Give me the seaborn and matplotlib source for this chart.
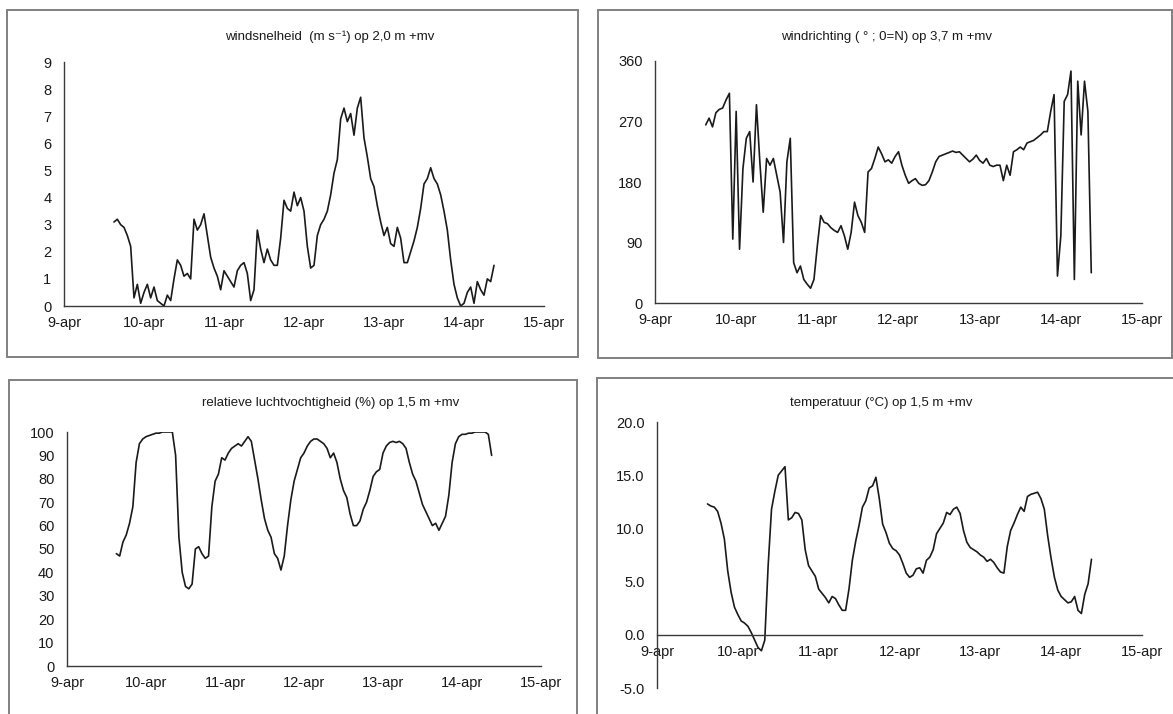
import matplotlib
matplotlib.use("Agg")
import matplotlib.pyplot as plt
import matplotlib.dates as mdates
from matplotlib.patches import Rectangle
from matplotlib.ticker import FuncFormatter
import seaborn as sns
import pandas as pd

# hourly readings, 9-apr 15:00 .. 14-apr 09:00
start = "2010-04-09 15:00"

wind_speed = [
    3.1, 3.2, 3.0, 2.9, 2.6, 2.2, 0.3, 0.8, 0.1, 0.5,
    0.8, 0.3, 0.7, 0.2, 0.1, 0.0, 0.4, 0.2, 1.0, 1.7,
    1.5, 1.1, 1.2, 1.0, 3.2, 2.8, 3.0, 3.4, 2.6, 1.8,
    1.4, 1.1, 0.6, 1.3, 1.1, 0.9, 0.7, 1.3, 1.5, 1.6,
    1.2, 0.2, 0.6, 2.8, 2.1, 1.6, 2.1, 1.7, 1.5, 1.5,
    2.5, 3.9, 3.6, 3.5, 4.2, 3.7, 4.0, 3.5, 2.2, 1.4,
    1.5, 2.6, 3.0, 3.2, 3.5, 4.1, 4.9, 5.4, 6.9, 7.3,
    6.8, 7.1, 6.3, 7.3, 7.7, 6.2, 5.5, 4.7, 4.4, 3.7,
    3.1, 2.6, 2.9, 2.3, 2.2, 2.9, 2.5, 1.6, 1.6, 2.0,
    2.4, 2.9, 3.6, 4.5, 4.7, 5.1, 4.7, 4.5, 4.1, 3.5,
    2.8, 1.7, 0.8, 0.3, 0.0, 0.1, 0.5, 0.7, 0.1, 0.9,
    0.6, 0.4, 1.0, 0.9, 1.5,
]

wind_dir = [
    265, 275, 262, 283, 288, 290, 302, 312, 95, 285,
    80, 200, 245, 255, 180, 295, 210, 135, 215, 205,
    215, 190, 165, 90, 210, 245, 60, 45, 55, 35,
    28, 22, 35, 85, 130, 120, 118, 112, 108, 105,
    115, 100, 80, 105, 150, 130, 120, 105, 195, 200,
    215, 232, 222, 210, 213, 208, 218, 225, 205, 190,
    178, 182, 185, 178, 175, 176, 182, 195, 210, 218,
    220, 222, 224, 226, 224, 225, 220, 215, 210, 214,
    220, 212, 208, 215, 205, 203, 205, 205, 182, 205,
    190, 225, 228, 232, 228, 238, 240, 242, 246, 250,
    255, 255, 285, 310, 40, 100, 300, 310, 345, 35,
    330, 250, 330, 285, 45,
]

humidity = [
    48, 47, 53, 56, 61, 68, 87, 95, 97, 98,
    98.5, 99, 99.5, 99.5, 100, 100, 100, 100, 90, 55,
    40, 34, 33, 35, 50, 51, 48, 46, 47, 68,
    79, 82, 89, 88, 91, 93, 94, 95, 94, 96,
    98, 96, 88, 80, 71, 63, 58, 55, 48, 46,
    41, 47, 60, 71, 79, 84, 89, 91, 94, 96,
    97, 97, 96, 95, 93, 89, 91, 87, 80, 75,
    72, 65, 60, 60, 62, 67, 70, 75, 81, 83,
    84, 91, 94, 95.5, 96, 95.5, 96, 95, 93, 87,
    82, 79, 74, 69, 66, 63, 60, 61, 58, 61,
    64, 73, 87, 95, 98, 99, 99, 99.5, 99.5, 100,
    100, 100, 100, 99, 90,
]

temperature = [
    12.3, 12.1, 12.0, 11.6, 10.5, 9.0, 6.0, 4.0, 2.6, 1.9,
    1.3, 1.1, 0.8, 0.2, -0.5, -1.2, -1.5, -0.5, 6.5, 11.8,
    13.5, 15.0, 15.4, 15.8, 10.8, 11.0, 11.5, 11.4, 10.8, 8.0,
    6.5, 6.0, 5.5, 4.3, 3.9, 3.5, 3.0, 3.6, 3.4, 2.8,
    2.3, 2.3, 4.3, 7.0, 8.8, 10.3, 12.0, 12.6, 13.8, 14.0,
    14.8, 12.8, 10.4, 9.6, 8.6, 8.1, 7.9, 7.5, 6.7, 5.8,
    5.4, 5.6, 6.2, 6.3, 5.8, 7.0, 7.3, 8.0, 9.5, 10.0,
    10.5, 11.5, 11.3, 11.8, 12.0, 11.4, 9.8, 8.7, 8.2, 8.0,
    7.8, 7.5, 7.3, 6.9, 7.1, 6.8, 6.3, 5.9, 5.8, 8.3,
    9.8, 10.5, 11.3, 12.0, 11.6, 13.0, 13.2, 13.3, 13.4, 12.8,
    11.8, 9.3, 7.2, 5.4, 4.2, 3.6, 3.3, 3.0, 3.1, 3.6,
    2.3, 2.0, 3.8, 4.8, 7.1,
]

titles = [
    "windsnelheid  (m s\u207b\u00b9) op 2,0 m +mv",
    "windrichting ( \u00b0 ; 0=N) op 3,7 m +mv",
    "relatieve luchtvochtigheid (%) op 1,5 m +mv",
    "temperatuur (\u00b0C) op 1,5 m +mv",
]
y_ticks = [
    list(range(0, 10)),
    [0, 90, 180, 270, 360],
    list(range(0, 101, 10)),
    [-5, 0, 5, 10, 15, 20],
]

df = pd.DataFrame({
    "time": pd.date_range(start, periods=len(wind_speed), freq="h"),
    "wind_speed": wind_speed,
    "wind_dir": wind_dir,
    "humidity": humidity,
    "temperature": temperature,
})

sns.set_style("white")
plt.rcParams["font.family"] = ["Liberation Sans", "DejaVu Sans"]

W, H = 1173, 714
fig = plt.figure(figsize=(W / 100, H / 100), dpi=100)

# (column, axes px: left, right, top, bottom), (box px), (title px), tick format
panels = [
    ("wind_speed", (64, 544, 62, 306), (7, 578, 10, 357), (330, 37), "{:.0f}"),
    ("wind_dir", (655, 1142, 61, 303), (598, 1172, 10, 358), (887, 37), "{:.0f}"),
    ("humidity", (67, 541, 432, 666), (9, 577, 380, 718), (331, 403), "{:.0f}"),
    ("temperature", (657, 1142, 422, 688), (597, 1178, 378, 718), (881, 403), "{:.1f}"),
]

x0 = pd.Timestamp("2010-04-09")
x1 = pd.Timestamp("2010-04-15")
day_ticks = pd.date_range(x0, x1, freq="D")

for i, (col, (l, r, t, b), (bl, br, bt, bb), (tx, ty), fmt) in enumerate(panels):
    fig.patches.append(Rectangle((bl / W, 1 - bb / H), (br - bl) / W, (bb - bt) / H,
                                 transform=fig.transFigure, fill=False,
                                 edgecolor="#808080", linewidth=1.4))
    ax = fig.add_axes([l / W, 1 - b / H, (r - l) / W, (b - t) / H])
    ax.patch.set_alpha(0)
    sns.lineplot(data=df, x="time", y=col, ax=ax, color="#1a1a1a", linewidth=1.2)
    ax.set_xlim(x0, x1)
    ax.set_ylim(y_ticks[i][0], y_ticks[i][-1])
    ax.set_xticks(day_ticks)
    ax.xaxis.set_major_formatter(FuncFormatter(
        lambda v, p: f"{mdates.num2date(v).day}-apr"))
    ax.set_yticks(y_ticks[i])
    ax.set_yticklabels([fmt.format(v) for v in y_ticks[i]])
    ax.set_xlabel("")
    ax.set_ylabel("")
    for s in ["top", "right"]:
        ax.spines[s].set_visible(False)
    for s in ["left", "bottom"]:
        ax.spines[s].set_color("#3a3a3a")
        ax.spines[s].set_linewidth(1.0)
    if col == "temperature":
        ax.spines["bottom"].set_position(("data", 0))
    ax.tick_params(direction="out", length=4, width=1.0, color="#3a3a3a",
                   labelsize=10.5, labelcolor="#1a1a1a")
    ax.tick_params(axis="y", pad=5)
    ax.tick_params(axis="x", pad=3)
    fig.text(tx / W, 1 - ty / H, titles[i], ha="center", va="center",
             fontsize=9.5, color="#1a1a1a")

fig.savefig("out.png", dpi=100)
